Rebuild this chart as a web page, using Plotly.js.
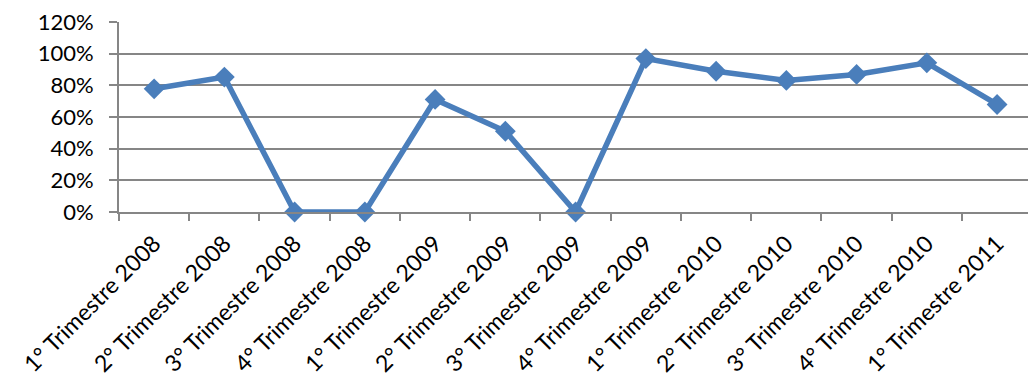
<!DOCTYPE html>
<html>
<head>
<meta charset="utf-8">
<script src="https://cdn.plot.ly/plotly-3.0.1.min.js"></script>
<style>
html,body{margin:0;padding:0;background:#fff;}
#chart{width:1028px;height:383px;}
</style>
</head>
<body>
<div id="chart"></div>
<script>
const categories = [
  "1° Trimestre 2008", "2° Trimestre 2008", "3° Trimestre 2008", "4° Trimestre 2008",
  "1° Trimestre 2009", "2° Trimestre 2009", "3° Trimestre 2009", "4° Trimestre 2009",
  "1° Trimestre 2010", "2° Trimestre 2010", "3° Trimestre 2010", "4° Trimestre 2010",
  "1° Trimestre 2011"
];
const values = [0.778, 0.852, 0, 0, 0.711, 0.51, 0, 0.969, 0.889, 0.831, 0.869, 0.942, 0.679];
const yTickVals = [0, 0.2, 0.4, 0.6, 0.8, 1.0, 1.2];
const yTickText = ["0%", "20%", "40%", "60%", "80%", "100%", "120%"];

const blue = "#4A7EBB";
const gray = "#868686";

const trace = {
  x: categories,
  y: values,
  type: "scatter",
  mode: "lines+markers",
  line: {color: blue, width: 5.5},
  marker: {symbol: "diamond", size: 16, color: blue},
  cliponaxis: false,
  hoverinfo: "x+y"
};

const layout = {
  width: 1028,
  height: 383,
  margin: {l: 119, r: 0, t: 22, b: 171, pad: 0},
  paper_bgcolor: "#ffffff",
  plot_bgcolor: "#ffffff",
  showlegend: false,
  font: {family: "Lato, 'Open Sans', sans-serif", size: 22, color: "#000000"},
  xaxis: {
    type: "category",
    range: [-0.5, 12.44],
    tickangle: -45,
    tickson: "boundaries",
    ticks: "outside",
    ticklen: 7,
    tickwidth: 2,
    tickcolor: gray,
    showline: true,
    linecolor: gray,
    linewidth: 2,
    showgrid: false,
    zeroline: false,
    ticklabelstandoff: 7,
    tickfont: {family: "Lato, 'Open Sans', sans-serif", size: 23, color: "#000"},
    automargin: false
  },
  yaxis: {
    range: [0, 1.2],
    tickvals: yTickVals,
    ticktext: yTickText,
    ticks: "outside",
    ticklen: 8,
    tickwidth: 2,
    tickcolor: gray,
    showline: true,
    linecolor: gray,
    linewidth: 2,
    showgrid: true,
    gridcolor: gray,
    gridwidth: 2,
    zeroline: false,
    ticklabelstandoff: 11,
    tickfont: {family: "Lato, 'Open Sans', sans-serif", size: 22, color: "#000"},
    automargin: false
  }
};

Plotly.newPlot("chart", [trace], layout, {displayModeBar: false, staticPlot: true});
</script>
</body>
</html>
